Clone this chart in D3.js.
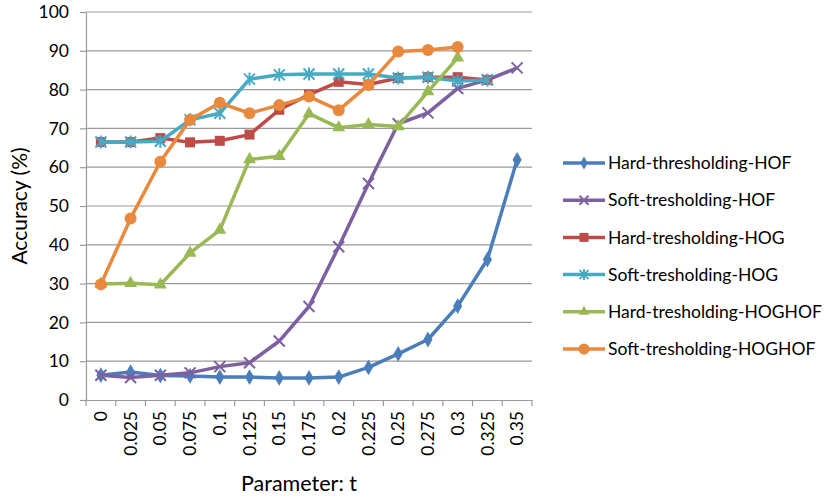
<!DOCTYPE html>
<html><head><meta charset="utf-8">
<script src="https://cdn.jsdelivr.net/npm/d3@7"></script>
<style>body{margin:0;background:#fff}svg{display:block}text{font-family:Lato,"Open Sans",sans-serif;fill:#000}</style>
</head><body><svg id="c" width="833" height="498"></svg>
<script>
const categories = ["0","0.025","0.05","0.075","0.1","0.125","0.15","0.175","0.2","0.225","0.25","0.275","0.3","0.325","0.35"];
const yTicks = [0,10,20,30,40,50,60,70,80,90,100];
const seriesNames = ["Hard-thresholding-HOF","Soft-tresholding-HOF","Hard-tresholding-HOG","Soft-tresholding-HOG","Hard-tresholding-HOGHOF","Soft-tresholding-HOGHOF"];
const hardHOF = [6.4,7.2,6.3,6.2,5.9,5.9,5.7,5.7,5.9,8.4,11.9,15.6,24.2,36.2,61.9];
const softHOF = [6.4,5.8,6.4,7.0,8.6,9.6,15.2,24.1,39.5,55.8,71.2,74.0,80.3,82.5,85.6];
const hardHOG = [66.5,66.5,67.5,66.4,66.8,68.4,74.8,78.7,82.0,81.3,83.0,83.2,83.2,82.5,null];
const softHOG = [66.5,66.5,66.7,72.2,73.9,82.7,83.8,84.0,84.0,84.0,83.0,83.2,82.2,82.5,null];
const hardHOGHOF = [29.9,30.1,29.7,37.9,43.8,62.0,62.8,73.8,70.2,71.0,70.5,79.5,88.2,null,null];
const softHOGHOF = [29.8,46.8,61.4,72.2,76.6,73.9,76.0,78.2,74.7,81.2,89.8,90.2,91.0,null,null];
const seriesValues = [hardHOF, softHOF, hardHOG, softHOG, hardHOGHOF, softHOGHOF];
const colors = ["#4A7EBB","#7D60A0","#BE4B48","#46AAC5","#98B954","#E8893D"];
const markers = ["diamond","x","square","asterisk","triangle","circle"];

const svg = d3.select("#c");
const pL = 86, pR = 532, pT = 12, pB = 400;
const x = d3.scaleBand().domain(categories).range([pL, pR]).padding(0);
const y = d3.scaleLinear().domain([0,100]).range([pB, pT]);
const gridColor = "#9a9a9a";

// gridlines
svg.append("g").selectAll("line").data(yTicks.filter(d=>d>0)).join("line")
  .attr("x1", pL).attr("x2", pR).attr("y1", d=>y(d)).attr("y2", d=>y(d))
  .attr("stroke", gridColor).attr("stroke-width", 1.2);

// y axis
const ya = svg.append("g").attr("transform", `translate(${pL},0)`)
  .call(d3.axisLeft(y).tickValues(yTicks).tickSize(6).tickPadding(11).tickSizeOuter(0));
ya.select(".domain").attr("stroke", gridColor).attr("stroke-width",1.2);
ya.selectAll(".tick line").attr("stroke", gridColor).attr("stroke-width",1.2);
ya.selectAll("text").style("font-size","17.5px").attr("fill","#000");

// x axis
const xa = svg.append("g").attr("transform", `translate(0,${pB})`)
  .call(d3.axisBottom(x).tickSize(0).tickSizeOuter(0));
xa.select(".domain").attr("stroke", gridColor).attr("stroke-width",1.2);
xa.selectAll(".tick text").style("font-size","17.5px").attr("fill","#000")
  .attr("transform","rotate(-90)").attr("text-anchor","end")
  .attr("x",-11).attr("y",0).attr("dy","0.35em");
// boundary ticks
const bounds = d3.range(categories.length+1).map(i => pL + i*x.bandwidth());
svg.append("g").selectAll("line").data(bounds).join("line")
  .attr("x1",d=>d).attr("x2",d=>d).attr("y1",pB).attr("y2",pB+6)
  .attr("stroke",gridColor).attr("stroke-width",1.2);

// axis titles
svg.append("text").attr("x",299).attr("y",491).attr("text-anchor","middle").style("font-size","21.5px").text("Parameter: t");
svg.append("text").attr("transform","translate(27,206) rotate(-90)").attr("text-anchor","middle").style("font-size","21px").text("Accuracy (%)");

function drawMarker(g, type, color, s) {
  if (type === "diamond") g.append("path").attr("d", d3.symbol(d3.symbolDiamond, s*s*0.6)()).attr("fill", color);
  else if (type === "square") g.append("rect").attr("x",-s/2).attr("y",-s/2).attr("width",s).attr("height",s).attr("fill",color);
  else if (type === "triangle") g.append("path").attr("d", d3.symbol(d3.symbolTriangle, s*s*0.6)()).attr("fill", color);
  else if (type === "circle") g.append("circle").attr("r", s/2+0.5).attr("fill", color);
  else if (type === "x") {
    const h = s/2;
    g.append("path").attr("d",`M${-h},${-h}L${h},${h}M${-h},${h}L${h},${-h}`).attr("stroke",color).attr("stroke-width",2);
  } else if (type === "asterisk") {
    const h = s/2;
    g.append("path").attr("d",`M${-h},${-h}L${h},${h}M${-h},${h}L${h},${-h}M0,${-h-1}L0,${h+1}`).attr("stroke",color).attr("stroke-width",2);
  }
}

const line = d3.line().defined(d=>d.v!==null).x(d=>x(d.c)+x.bandwidth()/2).y(d=>y(d.v));
seriesValues.forEach((vals, i) => {
  const pts = vals.map((v,j)=>({c:categories[j], v}));
  svg.append("path").datum(pts).attr("d", line).attr("fill","none")
    .attr("stroke", colors[i]).attr("stroke-width",3.5).attr("stroke-linejoin","round");
  pts.filter(d=>d.v!==null).forEach(d => {
    const g = svg.append("g").attr("transform",`translate(${x(d.c)+x.bandwidth()/2},${y(d.v)})`);
    drawMarker(g, markers[i], colors[i], markers[i]==="circle"?11:(markers[i]==="square"?10:11));
  });
});

// legend
const lg = svg.append("g");
seriesNames.forEach((name, i) => {
  const yy = 163 + i*37.2;
  lg.append("line").attr("x1",563).attr("x2",605).attr("y1",yy).attr("y2",yy).attr("stroke",colors[i]).attr("stroke-width",3.5);
  const g = lg.append("g").attr("transform",`translate(584,${yy})`);
  drawMarker(g, markers[i], colors[i], markers[i]==="circle"?10:9);
  lg.append("text").attr("x",608).attr("y",yy).attr("dy","0.35em").style("font-size","17.5px").text(name);
});
</script></body></html>
